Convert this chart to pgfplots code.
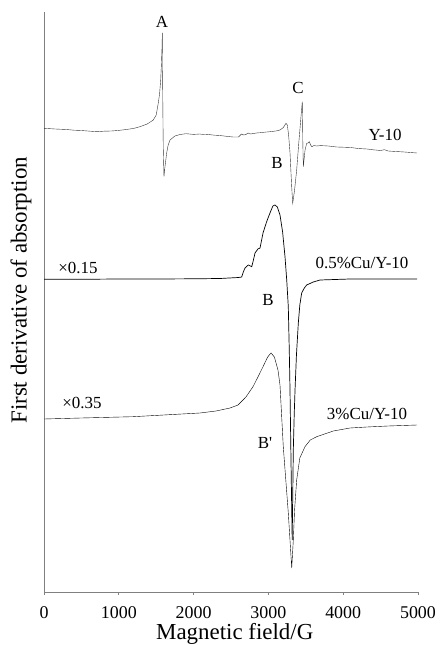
\documentclass[border=0pt]{standalone}
\usepackage{pgfplots}
\pgfplotsset{compat=1.18}
\usepackage{fontspec}
\setmainfont{Liberation Serif}
\begin{document}
\begin{tikzpicture}
\path[use as bounding box] (0,0) rectangle (441bp,645bp);
\begin{axis}[
  at={(44bp,53bp)}, anchor=south west,
  scale only axis, width=374bp, height=580bp,
  xmin=0, xmax=5000, ymin=0, ymax=580,
  axis lines=left,
  axis line style={-, black!50, line width=0.8bp},
  xtick={0,1000,2000,3000,4000,5000},
  ytick=\empty,
  tick align=outside,
  major tick length=3bp,
  tick style={black!50, line width=0.8bp},
  xtick pos=bottom,
  /pgf/number format/assume math mode=true,
  /pgf/number format/1000 sep={},
  xticklabel style={font=\fontsize{18}{18}\selectfont, yshift=-8bp},
  xlabel={Magnetic field/G},
  xlabel style={font=\fontsize{23}{23}\selectfont, at={(axis description cs:0.51,0)}, anchor=base, yshift=-47bp},
  ylabel={First derivative of absorption},
  ylabel style={font=\fontsize{23}{23}\selectfont, at={(axis description cs:-0.0615,0.52)}, anchor=center, rotate=0},
  clip=false,
  cycle list={{black!80, line width=0.7bp, no markers}},
]
% Y-10
\addplot coordinates {
(0,463.7) (150,463.0) (300,462.5) (400,461.8) (500,461.5) (600,460.9) (709,460.3) (800,460.8) (900,461.0) (1000,461.6) (1100,462.5) (1200,463.6) (1283,465.3) (1380,468) (1461,472) (1500,477) (1528,489) (1545,498) (1560,512) (1570,528) (1578,545.3) (1582,559) (1585,520) (1588,492) (1592,460) (1595,442) (1604,415.3) (1612,422) (1620,427) (1640,439) (1660,447) (1685,452) (1750,456) (1818,457.5) (1900,458.3) (2000,457.6) (2086,458) (2150,457.2) (2200,457.5) (2280,456.8) (2350,456.5) (2450,455.6) (2527,455) (2600,455) (2620,456.5) (2640,458) (2670,457) (2700,457.5) (2727,459) (2760,458) (2800,458.5) (2850,459.1) (2888,459.3) (2950,459.8) (3021,460.3) (3100,461) (3155,462) (3200,464.5) (3235,468.7) (3253,467) (3270,457) (3289,439) (3310,407) (3325,388.7) (3350,402) (3378,422) (3405,448) (3432,472) (3453,490.3) (3457,470) (3460,450) (3467,425.3) (3490,442) (3512,448.7) (3530,449) (3547,450.3) (3565,447) (3579,445.3) (3610,446.5) (3646,446) (3700,446.4) (3800,446) (3913,445) (4000,444.8) (4100,444.5) (4200,443.5) (4318,443) (4400,442.2) (4500,441.5) (4550,442.3) (4600,441) (4700,440.5) (4800,440.1) (4900,439.5) (4987,439)
};
% 0.5%Cu/Y-10
\addplot coordinates {
(0,312.7) (500,312.7) (1000,313) (1500,313) (2000,313.2) (2353,313.5) (2600,314.5) (2643,315) (2665,320) (2687,324) (2731,327) (2777,325.3) (2800,332) (2821,339) (2860,343) (2888,344) (2928,359) (2975,370) (3021,379) (3060,386) (3088,387) (3120,385) (3155,377) (3190,360) (3222,335.3) (3245,312) (3266,285.3) (3279,242) (3289,202) (3303,127) (3318,52) (3333,142) (3345,177) (3356,202) (3375,237) (3400,269) (3420,287) (3445,299) (3480,304) (3512,307) (3600,310) (3690,312) (4091,313) (4500,313) (4987,313)
};
% 3%Cu/Y-10
\addplot coordinates {
(0,173) (500,174) (1190,175.3) (1600,177) (2086,179) (2300,181) (2487,184) (2594,187) (2700,195) (2794,205.3) (2860,215) (2928,225.3) (2990,235) (3035,239) (3080,235) (3128,222) (3155,207) (3199,145.3) (3266,79) (3312,24) (3333,52) (3350,82) (3378,112) (3420,134) (3489,145.3) (3560,152) (3646,155.3) (3868,161) (4091,164) (4318,165) (4600,166) (4987,167)
};
\begin{scope}[every node/.style={font=\fontsize{17}{17}\selectfont, inner sep=0pt}]
\node at (axis cs:1578,570) {A};
\node at (axis cs:3396,504) {C};
\node at (axis cs:3115,429) {B};
\node at (axis cs:4559,457) {Y-10};
\node at (axis cs:455,324) {×0.15};
\node at (axis cs:4251,329) {0.5\%Cu/Y-10};
\node at (axis cs:2995,292) {B};
\node at (axis cs:508,189) {×0.35};
\node at (axis cs:4318,178) {3\%Cu/Y-10};
\node at (axis cs:2955,149) {B\textquotesingle};
\end{scope}
\end{axis}
\end{tikzpicture}
\end{document}
